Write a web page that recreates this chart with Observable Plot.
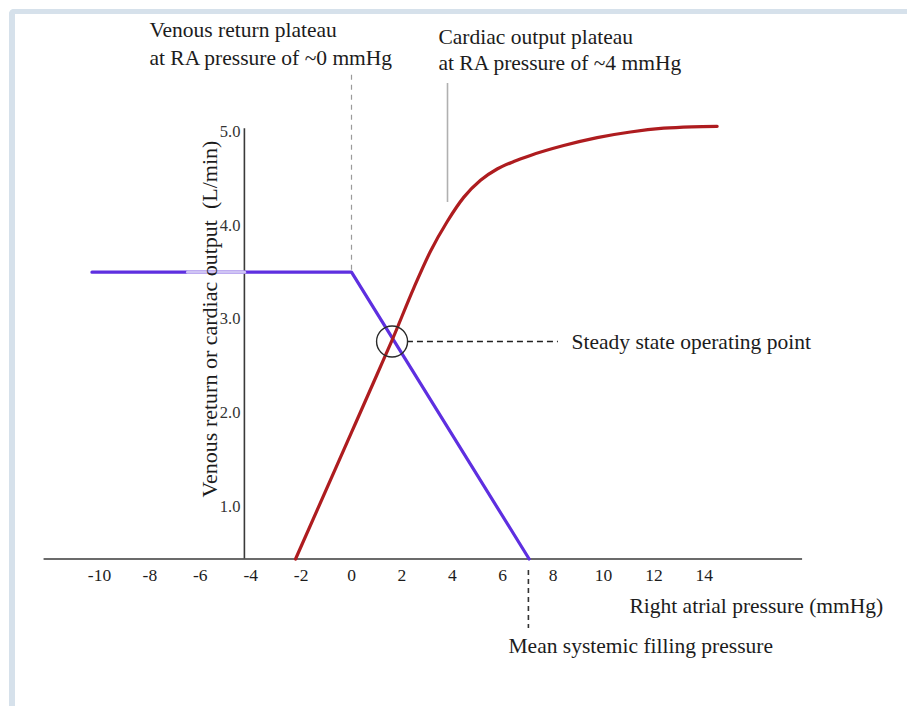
<!DOCTYPE html>
<html><head><meta charset="utf-8">
<script src="https://cdn.jsdelivr.net/npm/d3@7"></script>
<script src="https://cdn.jsdelivr.net/npm/@observablehq/plot@0.6"></script>
<style>
html,body{margin:0;padding:0;background:#fff;}
#wrap{position:relative;width:907px;height:706px;overflow:hidden;background:#fff;}
#frame{position:absolute;left:9px;top:9px;width:1000px;height:1000px;border-top:5px solid #d6e1eb;border-left:6px solid #d6e1eb;border-top-left-radius:5px;box-sizing:border-box;}
#chart{position:absolute;left:0;top:0;}
#chart svg text{font-family:'Liberation Serif','Times New Roman',serif;}
</style></head>
<body><div id="wrap"><div id="frame"></div><div id="chart"></div></div>
<script>
// ---- data (RA pressure in mmHg, flow in L/min) ----
const xTicks = [-10, -8, -6, -4, -2, 0, 2, 4, 6, 8, 10, 12, 14];
const yTicks = [1, 2, 3, 4, 5];
const yTickLabels = ["1.0", "2.0", "3.0", "4.0", "5.0"];
const baseline = 0.44;            // level at which the x axis is drawn
const xAxisExtent = [-12.2, 17.9];
const yAxisAt = -4.25;
const yAxisTop = 5.03;

const venousP = [-10.3, 0, 7.05];
const venousQ = [3.5, 3.5, baseline];
const venousFadedP = [-6.5, -4.25];
const venousFadedQ = [3.5, 3.5];

const cardiacP = [-2.22, 0, 1.0, 1.62, 2.47, 3.13, 3.80, 4.46, 5.12, 5.78, 6.44, 7.10, 8.42, 9.75, 11.07, 12.39, 13.5, 14.51];
const cardiacQ = [baseline, 1.79, 2.40, 2.78, 3.33, 3.72, 4.04, 4.30, 4.48, 4.60, 4.68, 4.745, 4.85, 4.935, 4.995, 5.035, 5.05, 5.055];

const steadyPoint = {p: 1.61, q: 2.76};
const meanFillingPressure = 7.02;

const annotations = [
  {p: -8.02, q: 6.077, text: "Venous return plateau"},
  {p: -8.02, q: 5.779, text: "at RA pressure of ~0 mmHg"},
  {p: 3.45, q: 6.003, text: "Cardiac output plateau"},
  {p: 3.45, q: 5.725, text: "at RA pressure of ~4 mmHg"},
  {p: 8.73, q: 2.749, text: "Steady state operating point"},
  {p: 11.03, q: -0.067, text: "Right atrial pressure (mmHg)"},
  {p: 6.23, q: -0.493, text: "Mean systemic filling pressure"}
];
const yTitle = {p: -5.6, q: 3.0, text: "Venous return or cardiac output \u00a0(L/min)"};

// ---- tables ----
const venous = venousP.map((p, i) => ({p, q: venousQ[i]}));
const venousFaded = venousFadedP.map((p, i) => ({p, q: venousFadedQ[i]}));
const cardiac = cardiacP.map((p, i) => ({p, q: cardiacQ[i]}));
const yTickData = yTicks.map((q, i) => ({q, label: yTickLabels[i]}));

const font = "'Liberation Serif', 'Times New Roman', serif";
const ink = "#1c1c1c";

const chart = Plot.plot({
  width: 907, height: 706,
  marginTop: 0, marginRight: 0, marginBottom: 0, marginLeft: 0,
  x: {domain: [-351 / 25.2, 556 / 25.2], axis: null},
  y: {domain: [5 - 575 / 93.75, 5 + 131 / 93.75], axis: null},
  style: {fontFamily: font, background: "transparent", overflow: "visible"},
  marks: [
    // axes
    Plot.ruleY([baseline], {x1: xAxisExtent[0], x2: xAxisExtent[1], stroke: "#3a3a3a", strokeWidth: 1.6}),
    Plot.ruleX([yAxisAt], {y1: baseline, y2: yAxisTop, stroke: "#3a3a3a", strokeWidth: 1.6}),
    // guide lines
    Plot.ruleX([0], {y1: 3.52, y2: 5.63, stroke: "#9a9a9a", strokeWidth: 1.2, strokeDasharray: "5,5"}),
    Plot.ruleX([3.81], {y1: 4.243, y2: 5.512, stroke: "#b0b0b0", strokeWidth: 1.6}),
    Plot.ruleY([steadyPoint.q], {x1: 2.22, x2: 8.21, stroke: "#222", strokeWidth: 1.3, strokeDasharray: "6,4"}),
    Plot.ruleX([meanFillingPressure], {y1: 0.317, y2: -0.301, stroke: "#333", strokeWidth: 1.6, strokeDasharray: "5,4"}),
    // curves
    Plot.line(venous, {x: "p", y: "q", stroke: "#5e2fe0", strokeWidth: 3.2}),
    Plot.line(venousFaded, {x: "p", y: "q", stroke: "#cfc4f4", strokeWidth: 3.4}),
    Plot.line(cardiac, {x: "p", y: "q", stroke: "#ae1c1f", strokeWidth: 3.2, curve: "monotone-x"}),
    // operating point
    Plot.dot([steadyPoint], {x: "p", y: "q", r: 15.5, stroke: "#2a2a2a", strokeWidth: 1.4, fill: "none"}),
    // tick labels
    Plot.text(xTicks, {x: d => d, y: 0.27, text: d => String(d), fontSize: 17.5, fontFamily: font, fill: ink, textAnchor: "middle"}),
    Plot.text(yTickData, {x: -4.405, y: "q", text: "label", fontSize: 16.5, fontFamily: font, fill: "#333", textAnchor: "end"}),
    // annotations
    Plot.text(annotations, {x: "p", y: "q", text: "text", fontSize: 21.5, fontFamily: font, fill: ink, textAnchor: "start"}),
    Plot.text([yTitle], {x: "p", y: "q", text: "text", rotate: -90, fontSize: 22, fontFamily: font, fill: ink, textAnchor: "middle"})
  ]
});
document.getElementById("chart").appendChild(chart);
</script>
</body></html>
